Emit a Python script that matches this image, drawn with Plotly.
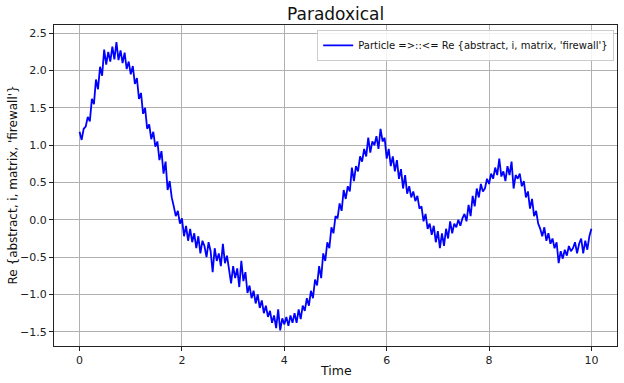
import numpy as np
import plotly.graph_objects as go

series_name = "Particle =>::<= Re {abstract, i, matrix, 'firewall'}"
title_text = "Paradoxical"
x_label = "Time"
y_label = "Re {abstract, i, matrix, 'firewall'}"

seg_0 = [1.18, 1.07, 1.22, 1.25, 1.38, 1.32, 1.62, 1.55, 1.88, 1.75, 2.05, 1.93, 2.28, 2.08, 2.25, 2.12, 2.32, 2.15, 2.38, 2.14, 2.27, 2.10, 2.24, 2.02, 2.12]
seg_1 = [1.95, 2.06, 1.82, 1.90, 1.62, 1.70, 1.42, 1.50, 1.22, 1.28, 1.08, 1.18, 0.98, 1.05, 0.80, 0.92, 0.62, 0.78, 0.40, 0.52, 0.30, 0.18, 0.05, 0.12, -0.05]
seg_2 = [0.02, -0.22, -0.08, -0.28, -0.12, -0.30, -0.18, -0.38, -0.22, -0.45, -0.28, -0.35, -0.50, -0.30, -0.42, -0.70, -0.38, -0.55, -0.45, -0.62, -0.32, -0.58, -0.48, -0.68, -0.85]
seg_3 = [-0.62, -0.78, -0.65, -0.90, -0.55, -0.82, -0.70, -0.98, -0.88, -1.05, -0.95, -1.12, -1.00, -1.18, -1.08, -1.25, -1.15, -1.30, -1.22, -1.38, -1.28, -1.45, -1.20, -1.48, -1.32]
seg_4 = [-1.40, -1.30, -1.42, -1.28, -1.38, -1.25, -1.38, -1.20, -1.33, -1.15, -1.22, -1.05, -1.15, -0.95, -1.05, -0.80, -0.88, -0.62, -0.78, -0.45, -0.55, -0.30, -0.38, -0.10, -0.18]
seg_5 = [0.05, 0.02, 0.22, 0.12, 0.40, 0.28, 0.45, 0.38, 0.70, 0.52, 0.72, 0.65, 0.85, 0.78, 0.95, 0.85, 1.10, 0.90, 1.05, 1.00, 1.12, 0.95, 1.22, 1.05, 1.10]
seg_6 = [0.82, 0.95, 0.72, 0.85, 0.65, 0.80, 0.55, 0.68, 0.42, 0.60, 0.35, 0.45, 0.30, 0.38, 0.25, 0.32, 0.15, 0.18, -0.02, 0.08, -0.12, -0.05, -0.20, -0.08, -0.30]
seg_7 = [-0.15, -0.38, -0.18, -0.35, -0.12, -0.25, -0.02, -0.18, -0.05, -0.10, 0.0, -0.08, 0.02, 0.08, -0.02, 0.20, 0.05, 0.32, 0.18, 0.42, 0.30, 0.48, 0.38, 0.42, 0.55]
seg_8 = [0.48, 0.62, 0.55, 0.70, 0.60, 0.82, 0.58, 0.65, 0.52, 0.72, 0.60, 0.78, 0.42, 0.60, 0.55, 0.62, 0.45, 0.52, 0.30, 0.38, 0.15, 0.28, 0.05, 0.12, -0.05]
seg_9 = [-0.12, -0.22, -0.10, -0.28, -0.18, -0.32, -0.25, -0.38, -0.30, -0.58, -0.42, -0.52, -0.40, -0.48, -0.35, -0.42, -0.38, -0.30, -0.45, -0.32, -0.25, -0.45, -0.28, -0.40, -0.22]
seg_end = [-0.12]

values = seg_0 + seg_1 + seg_2 + seg_3 + seg_4 + seg_5 + seg_6 + seg_7 + seg_8 + seg_9 + seg_end
time = np.linspace(0, 10, len(values))

x_ticks = [0, 2, 4, 6, 8, 10]
y_ticks = [-1.5, -1.0, -0.5, 0.0, 0.5, 1.0, 1.5, 2.0, 2.5]

font = "DejaVu Sans"
W, H = 624, 383
ML, MR, MT, MB = 54, 7, 25, 37

fig = go.Figure()
fig.add_trace(go.Scatter(x=time, y=values, mode="lines", name=series_name,
                         line=dict(color="#0000ff", width=1.8)))

axis_common = dict(showline=True, linecolor="#222222", linewidth=1, mirror=True,
                   ticks="outside", ticklen=4, tickcolor="#222222", automargin=False,
                   showgrid=True, gridcolor="#b0b0b0", gridwidth=0.8,
                   zeroline=False, tickfont=dict(family=font, size=11, color="#222222"))

fig.update_layout(
    width=W, height=H,
    paper_bgcolor="white", plot_bgcolor="white",
    margin=dict(l=ML, r=MR, t=MT, b=MB, autoexpand=False),
    showlegend=True,
    legend=dict(x=0.995, y=0.985, xanchor="right", yanchor="top",
                bgcolor="rgba(255,255,255,0.85)", bordercolor="#cccccc", borderwidth=1,
                font=dict(family=font, size=10, color="#111111")),
    xaxis=dict(range=[-0.5, 10.5], tickvals=x_ticks, ticktext=[str(v) for v in x_ticks],
               **axis_common),
    yaxis=dict(range=[-1.69, 2.61], tickvals=y_ticks, tickformat=".1f",
               **axis_common),
    annotations=[
        dict(text=title_text, xref="paper", yref="paper", x=0.5, y=1 + (MT - 14) / (H - MT - MB),
             xanchor="center", yanchor="middle", showarrow=False,
             font=dict(family=font, size=17, color="#111111")),
        dict(text=x_label, xref="paper", yref="paper", x=0.5, y=-(371 - (H - MB)) / (H - MT - MB),
             xanchor="center", yanchor="middle", showarrow=False,
             font=dict(family=font, size=12.5, color="#111111")),
        dict(text=y_label, xref="paper", yref="paper", x=-(ML - 12) / (W - ML - MR), y=0.5,
             xanchor="center", yanchor="middle", textangle=-90, showarrow=False,
             font=dict(family=font, size=12, color="#111111")),
    ],
)

fig.write_html("out.html", config={"displayModeBar": False},
               post_script="document.body.style.margin='0';")
